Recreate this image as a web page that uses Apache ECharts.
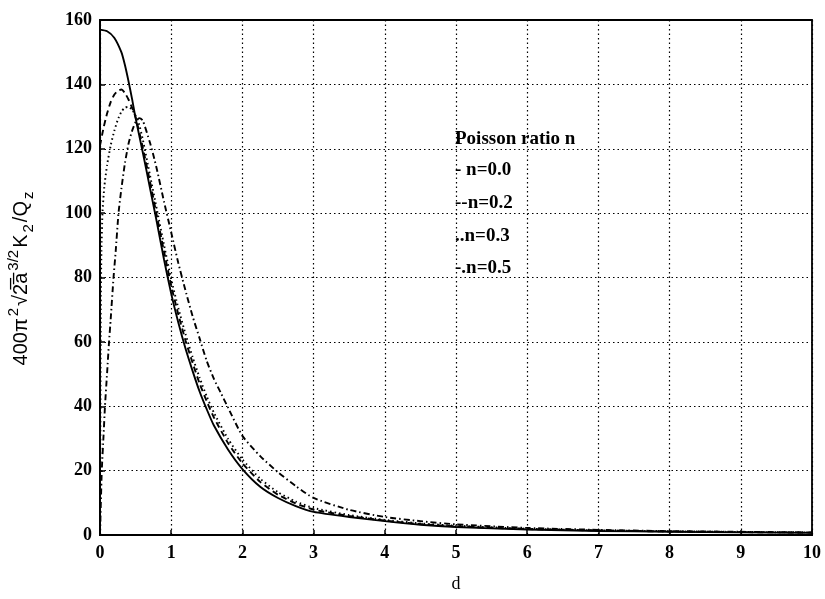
<!DOCTYPE html>
<html>
<head>
<meta charset="utf-8">
<script src="https://cdn.jsdelivr.net/npm/echarts@6/dist/echarts.min.js"></script>
<style>html,body{margin:0;padding:0;background:#fff}#c{width:825px;height:599px}</style>
</head>
<body>
<div id="c"></div>
<script>
// ---- data ----
var xTicks = [0,1,2,3,4,5,6,7,8,9,10];
var yTicks = [0,20,40,60,80,100,120,140,160];

// n = 0.0 (solid)
var dN00 = [0,0.1,0.2,0.3,0.35,0.4,0.45,0.5,0.6,0.7,0.8,0.9,1.0,1.1,1.2,1.3,1.4,1.5,1.6,1.8,2.0,2.25,2.5,2.75,3.0,3.5,4,4.5,5,6,7,8,9,10];
var vN00 = [157,156.5,154.5,150,146,141,135.5,129.5,119,108,97,85.5,75,66,58,51,44.5,39,34,26.5,20.5,15,11.5,9,7.2,5.6,4.3,3.2,2.5,1.7,1.25,1.0,0.8,0.65];

// n = 0.2 (dashed)
var dN02 = [0,0.05,0.1,0.15,0.2,0.25,0.3,0.35,0.4,0.45,0.5,0.6,0.7,0.8,0.9,1.0,1.1,1.2,1.3,1.4,1.5,1.6,1.8,2.0,2.25,2.5,2.75,3.0,3.5,4,4.5,5,6,7,8,9,10];
var vN02 = [121,126.5,131,134.5,136.8,138,138.4,137.3,135.3,132.8,129.8,120.5,110,99,88,77.5,68.5,60.5,53.5,47,41.5,36.5,28.5,22.3,16.5,12.5,9.8,7.9,5.9,4.5,3.4,2.7,1.85,1.4,1.1,0.9,0.75];

// n = 0.3 (dotted)
var dN03 = [0,0.01,0.02,0.035,0.06,0.1,0.15,0.2,0.25,0.3,0.35,0.4,0.45,0.5,0.55,0.6,0.7,0.8,0.9,1.0,1.1,1.2,1.3,1.4,1.5,1.6,1.8,2.0,2.25,2.5,2.75,3.0,3.5,4,4.5,5,6,7,8,9,10];
var vN03 = [0,70,88,100,108,115,121,125.5,129,131.5,132.8,133,132.2,130.3,127.5,123,112,101,90,79.5,70.5,62.5,55.3,48.8,43,38,29.8,23.5,17.5,13.3,10.4,8.4,6.2,4.7,3.6,2.9,1.95,1.45,1.15,0.95,0.8];

// n = 0.5 (dash-dot)
var dN05 = [0,0.025,0.05,0.07,0.1,0.127,0.15,0.19,0.22,0.26,0.3,0.35,0.4,0.45,0.5,0.55,0.6,0.7,0.75,0.8,0.9,1.0,1.1,1.2,1.3,1.4,1.5,1.6,1.7,1.8,2.0,2.25,2.5,2.75,3.0,3.5,4,4.5,5,6,7,8,9,10];
var vN05 = [0,20,31,40,50.5,60,67,80,88,100,107.5,115.5,121.5,125.5,128.3,129.5,128.8,122,118,113.5,103.5,94,84.5,76,68,61,54,48.5,44,39.5,30.8,24.5,19.5,15.2,11.5,7.8,5.6,4.3,3.3,2.2,1.6,1.2,1.0,0.8];

var legendTitle = 'Poisson ratio n';
var legendItems = ['- n=0.0', '--n=0.2', '..n=0.3', '-.n=0.5'];

function pairs(xs, ys){ return xs.map(function(x,i){ return [x, ys[i]]; }); }

var chart = echarts.init(document.getElementById('c'), null, {renderer:'canvas'});
var serif = '"Liberation Serif", "Times New Roman", serif';
var sans = '"Liberation Sans", Arial, sans-serif';
var lineW = 1.9;
var legFont = 'bold 19px ' + serif;

var option = {
  animation: false,
  backgroundColor: '#ffffff',
  grid: { left: 100, right: 13, top: 20, bottom: 64, containLabel: false, outerBoundsMode: 'none', show: true, borderColor: '#000', borderWidth: 1.8, backgroundColor: 'transparent' },
  xAxis: {
    type: 'value', min: xTicks[0], max: xTicks[xTicks.length-1], interval: 1,
    name: 'd', nameLocation: 'middle', nameGap: 40,
    nameTextStyle: { fontFamily: serif, fontSize: 18, color: '#000' },
    axisLine: { show: true, lineStyle: { color: '#000', width: 2 } },
    axisTick: { show: true, inside: true, length: 5, lineStyle: { color: '#000', width: 1.5 } },
    axisLabel: { fontFamily: serif, fontWeight: 'bold', fontSize: 18, color: '#000', margin: 9 },
    splitLine: { show: true, lineStyle: { color: '#000', width: 1.2, type: [1.5, 3] } }
  },
  yAxis: {
    type: 'value', min: yTicks[0], max: yTicks[yTicks.length-1], interval: 20,
    name: '{n|400π}{sup|2}{n|√}{n|2̅a̅}{sup|3/2}{n|K}{sub|2}{n|/Q}{sub|z}',
    nameLocation: 'middle', nameGap: 64, nameRotate: 90,
    nameTextStyle: {
      color: '#000', fontFamily: sans, fontSize: 20,
      rich: {
        n: { fontFamily: sans, fontSize: 20, color: '#000', lineHeight: 30, verticalAlign: 'middle' },
        sup: { fontFamily: sans, fontSize: 15, color: '#000', lineHeight: 30, verticalAlign: 'top', padding: [0, 2, 0, 2] },
        sub: { fontFamily: sans, fontSize: 15, color: '#000', lineHeight: 30, verticalAlign: 'bottom', padding: [0, 2, 0, 2] }
      }
    },
    axisLine: { show: true, lineStyle: { color: '#000', width: 2 } },
    axisTick: { show: true, inside: true, length: 5, lineStyle: { color: '#000', width: 1.5 } },
    axisLabel: { fontFamily: serif, fontWeight: 'bold', fontSize: 18, color: '#000', margin: 8 },
    splitLine: { show: true, lineStyle: { color: '#000', width: 1.2, type: [1.5, 3] } }
  },
  graphic: [
    { type: 'text', x: 455, y: 139, style: { text: legendTitle, font: legFont, fill: '#000', verticalAlign: 'middle' } },
    { type: 'text', x: 455, y: 170, style: { text: legendItems[0], font: legFont, fill: '#000', verticalAlign: 'middle' } },
    { type: 'text', x: 455, y: 203, style: { text: legendItems[1], font: legFont, fill: '#000', verticalAlign: 'middle' } },
    { type: 'text', x: 455, y: 236, style: { text: legendItems[2], font: legFont, fill: '#000', verticalAlign: 'middle' } },
    { type: 'text', x: 455, y: 268, style: { text: legendItems[3], font: legFont, fill: '#000', verticalAlign: 'middle' } }
  ],
  series: [
    { name: 'n=0.0', type: 'line', data: pairs(dN00, vN00), showSymbol: false, smooth: 0.2, lineStyle: { color: '#000', width: lineW, type: 'solid' } },
    { name: 'n=0.2', type: 'line', data: pairs(dN02, vN02), showSymbol: false, smooth: 0.2, lineStyle: { color: '#000', width: lineW, type: [6, 4] } },
    { name: 'n=0.3', type: 'line', data: pairs(dN03, vN03), showSymbol: false, smooth: 0.2, lineStyle: { color: '#000', width: lineW, type: [1.5, 3] } },
    { name: 'n=0.5', type: 'line', data: pairs(dN05, vN05), showSymbol: false, smooth: 0.2, lineStyle: { color: '#000', width: lineW, type: [6, 3, 1.5, 3] } }
  ]
};
chart.setOption(option);
</script>
</body>
</html>
